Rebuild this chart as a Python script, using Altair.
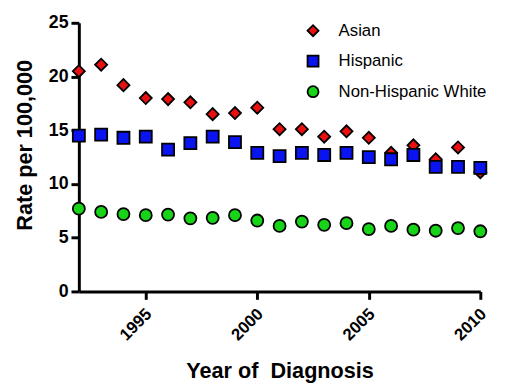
import altair as alt
import pandas as pd

years = list(range(1992, 2011))
asian = [20.5, 21.1, 19.2, 18.0, 17.9, 17.6, 16.5, 16.6, 17.1, 15.1, 15.1, 14.4, 14.9, 14.3, 12.9, 13.6, 12.3, 13.4, 11.1]
hispanic = [14.5, 14.6, 14.3, 14.4, 13.2, 13.8, 14.4, 13.9, 12.9, 12.6, 12.9, 12.7, 12.9, 12.5, 12.3, 12.7, 11.6, 11.6, 11.5]
white = [7.7, 7.4, 7.2, 7.1, 7.15, 6.8, 6.85, 7.1, 6.6, 6.1, 6.5, 6.2, 6.35, 5.8, 6.1, 5.75, 5.65, 5.9, 5.6]

groups = ["Asian", "Hispanic", "Non-Hispanic White"]
colors = ["#e81010", "#0a14f0", "#18d418"]
shapes = ["diamond", "square", "circle"]

rows = []
for g, vals in zip(groups, [asian, hispanic, white]):
    for y, v in zip(years, vals):
        rows.append({"year": y, "rate": v, "group": g})
df = pd.DataFrame(rows)
legend_df = pd.DataFrame({"group": groups})

font = "Liberation Sans"

fill_scale = alt.Scale(domain=groups, range=colors)
shape_scale = alt.Scale(domain=groups, range=shapes)

points = alt.Chart(df).mark_point(
    filled=True, size=150, opacity=1, clip=False
).encode(
    x=alt.X("year:Q",
            scale=alt.Scale(domain=[1992, 2010], nice=False, zero=False),
            axis=alt.Axis(values=[1995, 2000, 2005, 2010], format="d",
                          title="Year of\u00a0 Diagnosis", labelAngle=-45,
                          labelAlign="right", labelBaseline="middle",
                          labelPadding=12, labelOffset=3, titlePadding=18)),
    y=alt.Y("rate:Q",
            scale=alt.Scale(domain=[0, 25], nice=False),
            axis=alt.Axis(values=[0, 5, 10, 15, 20, 25], title="Rate per 100,000",
                          titlePadding=12, titleY=124, labelPadding=3)),
    fill=alt.Fill("group:N", scale=fill_scale, legend=None),
    shape=alt.Shape("group:N", scale=shape_scale, legend=None),
    stroke=alt.value("black"),
    strokeWidth=alt.value(1.8),
)

leg_y = alt.Y("group:N", axis=None,
               scale=alt.Scale(domain=groups, range=[8, 70], padding=0))

leg_symbols = alt.Chart(legend_df).mark_point(
    filled=True, size=125, opacity=1, clip=False
).encode(
    x=alt.value(238),
    y=leg_y,
    fill=alt.Fill("group:N", scale=fill_scale, legend=None),
    shape=alt.Shape("group:N", scale=shape_scale, legend=None),
    stroke=alt.value("black"),
    strokeWidth=alt.value(1.8),
)

leg_text = alt.Chart(legend_df).mark_text(
    align="left", baseline="middle", font=font, fontSize=17, color="black", clip=False
).encode(
    x=alt.value(264),
    y=leg_y,
    text="group:N",
)

chart = alt.layer(points, leg_symbols, leg_text).resolve_scale(
    y="independent"
).properties(
    width=408, height=273,
    autosize=alt.AutoSizeParams(type="none"),
    padding={"left": 72, "top": 12, "right": 20, "bottom": 90},
).configure_view(stroke=None).configure_axis(
    domainColor="black", domainWidth=3, tickColor="black", tickWidth=3, tickSize=8,
    grid=False, labelFont=font, labelFontWeight="bold", labelColor="black",
    titleFont=font, titleFontWeight="bold", titleColor="black", titleFontSize=22,
).configure_axisX(labelFontSize=17).configure_axisY(labelFontSize=18)

chart.save("out.html", embed_options={"renderer": "svg", "actions": False})
